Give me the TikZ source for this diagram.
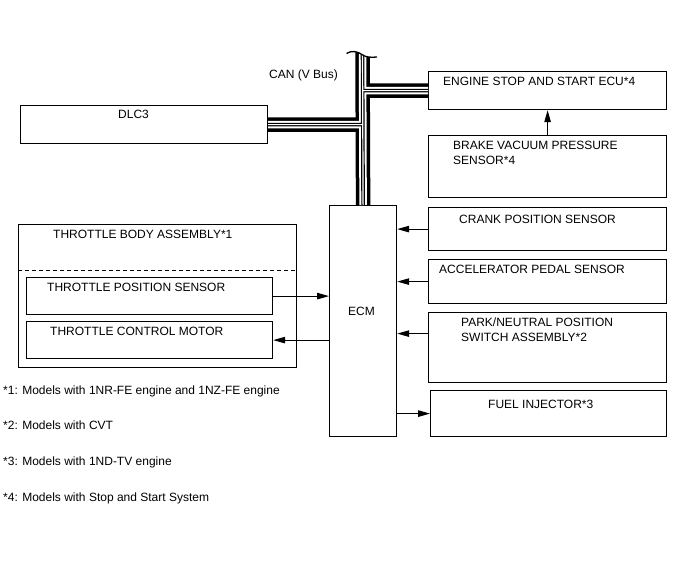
\documentclass[tikz,border=0pt]{standalone}
\usepackage{fontspec}
\setmainfont{Liberation Sans}
\usetikzlibrary{arrows.meta}

\begin{document}
\begin{tikzpicture}[x=1pt, y=-1pt, font=\fontsize{12}{14.7}\selectfont]
\tikzstyle{unit} = [rectangle, draw, line width=1.2pt, inner sep=0pt, anchor=north west]
\tikzstyle{caption} = [anchor=north west, inner sep=0pt, align=left]
\tikzstyle{signal} = [line width=1pt, -{Triangle[length=12pt, width=6.5pt]}]
\tikzstyle{canbus} = [draw, line width=14.5pt, postaction={draw, white, line width=7.5pt}, postaction={draw, black, line width=3.6pt}, postaction={draw, white, line width=1.2pt}]

\useasboundingbox (0,0) rectangle (688,560);

% boxes
\node (dlc) [unit, minimum width=247pt, minimum height=38pt] at (20,105) {};
\node (ecu) [unit, minimum width=238pt, minimum height=38pt] at (428,71) {};
\node (brake) [unit, minimum width=238pt, minimum height=62pt] at (428,135) {};
\node (crank) [unit, minimum width=238pt, minimum height=43pt] at (428,207) {};
\node (accel) [unit, minimum width=238pt, minimum height=44pt] at (428,259) {};
\node (pnp) [unit, minimum width=238pt, minimum height=70pt] at (428,312) {};
\node (inj) [unit, minimum width=236pt, minimum height=46pt] at (430,390) {};
\node (ecm) [unit, minimum width=67pt, minimum height=231pt] at (329,205) {};
\node (tba) [unit, minimum width=278pt, minimum height=143pt] at (18,224) {};
\node (tps) [unit, minimum width=246pt, minimum height=37pt] at (26,277) {};
\node (tcm) [unit, minimum width=246pt, minimum height=37pt] at (26,321) {};
\draw [line width=1pt, dash pattern=on 4pt off 3pt] ([yshift=-46pt]tba.north west) -- ([yshift=-46pt]tba.north east);

% texts
\node (dlctext) [caption] at (118,110) {DLC3};
\node (ecutext) [caption] at (443,77) {ENGINE STOP AND START ECU*4};
\node (braketext) [caption] at (453,141) {BRAKE VACUUM PRESSURE\\SENSOR*4};
\node (cranktext) [caption] at (459,215) {CRANK POSITION SENSOR};
\node (acceltext) [caption] at (439,265) {ACCELERATOR PEDAL SENSOR};
\node (pnptext) [caption] at (461,318) {PARK/NEUTRAL POSITION\\SWITCH ASSEMBLY*2};
\node (injtext) [caption] at (488,400) {FUEL INJECTOR*3};
\node (ecmtext) [caption] at (348,307) {ECM};
\node (tbatext) [caption] at (53,230) {THROTTLE BODY ASSEMBLY*1};
\node (tpstext) [caption] at (47,283) {THROTTLE POSITION SENSOR};
\node (tcmtext) [caption] at (50,327) {THROTTLE CONTROL MOTOR};
\node (cantext) [caption] at (269,70) {CAN (V Bus)};

% notes
\node (note1) [caption] at (3,386) {*1: Models with 1NR-FE engine and 1NZ-FE engine};
\node (note2) [caption] at (3,421) {*2: Models with CVT};
\node (note3) [caption] at (3,457) {*3: Models with 1ND-TV engine};
\node (note4) [caption] at (3,493) {*4: Models with Stop and Start System};

% CAN bus
\coordinate (busend) at (362.5,48);
\begin{scope}
\clip (346.5,53.5) .. controls (351,50.5) and (357,51) .. (362,54.5) .. controls (366,57.5) and (371,57.5) .. (377,57) -- (688,57) -- (688,560) -- (0,560) -- (0,53.5) -- cycle;
\draw [canbus] (busend) -- (ecm.north) (dlc.east) -- (dlc.east -| ecm.north) (ecu.west -| ecm.north) -- (ecu.west);
\end{scope}
\draw [line width=1.3pt] (346.5,53.5) .. controls (351,50.5) and (357,51) .. (362,54.5) .. controls (366,57.5) and (371,57.5) .. (377,57);

% signals
\draw [signal] (brake.north) -- (ecu.south);
\draw [signal] (crank.west) -- (crank.west -| ecm.east);
\draw [signal] (accel.west) -- (accel.west -| ecm.east);
\draw [signal] ([yshift=14pt]pnp.west) -- ([yshift=14pt]pnp.west -| ecm.east);
\draw [signal] (inj.west -| ecm.east) -- (inj.west);
\draw [signal] (tps.east) -- (tps.east -| ecm.west);
\draw [signal] (tcm.east -| ecm.west) -- (tcm.east);

\end{tikzpicture}
\end{document}
